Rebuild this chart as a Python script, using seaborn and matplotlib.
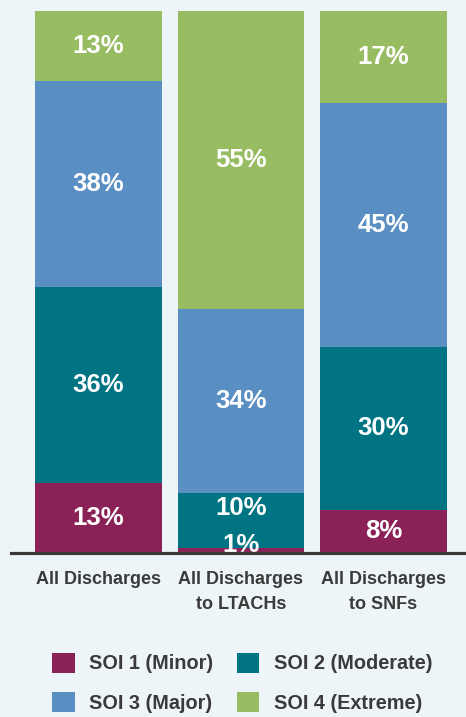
import numpy as np
import pandas as pd
import matplotlib
matplotlib.use("Agg")
import matplotlib.pyplot as plt
import seaborn as sns
from matplotlib.patches import Patch

categories = ["All Discharges", "All Discharges\nto LTACHs", "All Discharges\nto SNFs"]
series_names = ["SOI 1 (Minor)", "SOI 2 (Moderate)", "SOI 3 (Major)", "SOI 4 (Extreme)"]
soi1 = [13, 1, 8]
soi2 = [36, 10, 30]
soi3 = [38, 34, 45]
soi4 = [13, 55, 17]
colors = ["#8B2257", "#007482", "#5A8FC3", "#97BC62"]

bg = "#EEF5F8"
dark = "#3A3A3A"

sns.set_theme(style="white")
plt.rcParams['font.family'] = ['Liberation Sans Narrow', 'Liberation Sans', 'DejaVu Sans']

fig = plt.figure(figsize=(4.66, 7.17), dpi=100, facecolor=bg)
ax = fig.add_axes([11/466, 164/717, 455/466, 542/717])
ax.set_facecolor(bg)

series = [soi1, soi2, soi3, soi4]
cum = np.cumsum(np.array(series), axis=0)
df = pd.DataFrame({"cat": categories})
# draw from tallest cumulative to shortest
for i in range(3, -1, -1):
    df["v"] = cum[i]
    sns.barplot(data=df, x="cat", y="v", color=colors[i], saturation=1,
                width=0.89, ax=ax, edgecolor="none", linewidth=0, zorder=1)

# labels
for j in range(len(categories)):
    bottom = 0
    for i in range(4):
        v = series[i][j]
        y = bottom + v / 2
        if v < 3:
            y += 1.0
        elif i > 0 and series[i - 1][j] < 3:
            y += 2.3
        ax.text(j, y, f"{v}%", ha="center", va="center", color="white",
                fontsize=18.5, fontweight="bold", zorder=3, clip_on=True)
        bottom += v

ax.set_xlim(-0.614, 2.579)
ax.set_ylim(0, 100)
ax.set_xlabel("")
ax.set_ylabel("")
ax.set_yticks([])
for s in ["top", "left", "right"]:
    ax.spines[s].set_visible(False)
ax.spines["bottom"].set_color(dark)
ax.spines["bottom"].set_linewidth(2.3)
ax.spines["bottom"].set_zorder(5)
ax.tick_params(axis="x", length=0, pad=13, labelsize=13, labelcolor=dark)
for lab in ax.get_xticklabels():
    lab.set_fontweight("bold")
    lab.set_linespacing(1.6)

handles = [Patch(facecolor=c, edgecolor="none") for c in colors]
order = [0, 2, 1, 3]
leg = fig.legend([handles[k] for k in order], [series_names[k] for k in order],
                 loc="upper left", ncol=2,
                 bbox_to_anchor=(42/466, 1 - 643/717), frameon=False,
                 prop={"weight": "bold", "size": 14.3}, borderpad=0,
                 handlelength=1.14, handleheight=1.14, handletextpad=0.72,
                 columnspacing=1.2, labelspacing=0.95)
for t in leg.get_texts():
    t.set_color(dark)

fig.savefig("out.png", dpi=100, facecolor=bg)
